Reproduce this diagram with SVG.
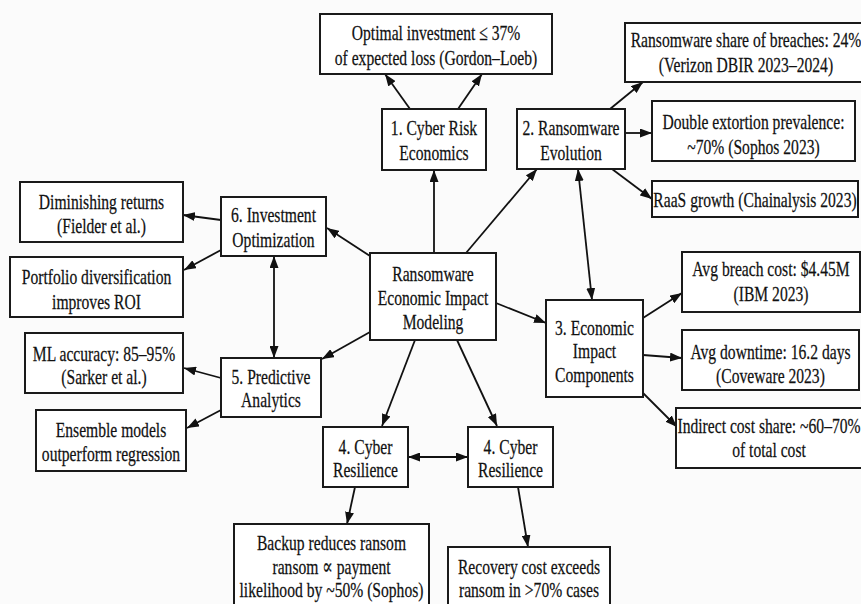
<svg xmlns="http://www.w3.org/2000/svg" width="861" height="604" viewBox="0 0 861 604">
<defs>
<marker id="ah" viewBox="0 0 12 9" refX="12" refY="4.5" markerWidth="12" markerHeight="9" markerUnits="userSpaceOnUse" orient="auto-start-reverse">
<path d="M0,0 L12,4.5 L0,9 z" fill="#111"/>
</marker>
<style>
.box{fill:#fff;stroke:#1a1a1a;stroke-width:2}
.t{font-family:"Liberation Serif","Times New Roman","DejaVu Serif",serif;font-size:22px;fill:#111;stroke:#111;stroke-width:0.25;text-anchor:middle}
.c{stroke:#111;stroke-width:1.8;fill:none;marker-end:url(#ah)}
.d{marker-start:url(#ah)}
</style>
</defs>
<rect x="0" y="0" width="861" height="604" fill="#fbfbfb"/>
<g id="connectors">
<line class="c" x1="410" y1="109" x2="385" y2="74"/>
<line class="c" x1="458" y1="109" x2="482" y2="74"/>
<line class="c" x1="434" y1="253" x2="434" y2="170"/>
<line class="c" x1="466" y1="253" x2="537" y2="169"/>
<line class="c d" x1="578" y1="169" x2="592" y2="300"/>
<line class="c" x1="610" y1="109" x2="643" y2="82"/>
<line class="c" x1="625" y1="133" x2="652" y2="133"/>
<line class="c" x1="612" y1="169" x2="652" y2="199"/>
<line class="c" x1="496" y1="303" x2="546" y2="323"/>
<line class="c" x1="643" y1="318" x2="682" y2="293"/>
<line class="c" x1="643" y1="355" x2="682" y2="358"/>
<line class="c" x1="643" y1="393" x2="677" y2="427"/>
<line class="c" x1="370" y1="256" x2="327" y2="228"/>
<line class="c" x1="221" y1="220" x2="183" y2="215"/>
<line class="c" x1="221" y1="250" x2="184" y2="270"/>
<line class="c d" x1="274" y1="256" x2="274" y2="358"/>
<line class="c" x1="370" y1="332" x2="322" y2="359"/>
<line class="c" x1="221" y1="378" x2="184" y2="368"/>
<line class="c" x1="221" y1="410" x2="187" y2="428"/>
<line class="c" x1="415" y1="340" x2="382" y2="426"/>
<line class="c" x1="457" y1="340" x2="497" y2="426"/>
<line class="c d" x1="408" y1="457" x2="468" y2="457"/>
<line class="c" x1="355" y1="487" x2="347" y2="524"/>
<line class="c" x1="518" y1="487" x2="528" y2="547"/>
</g>
<g id="optimal-investment">
<rect class="box" x="320" y="14" width="232" height="60"/>
<text class="t" transform="matrix(0.71 0 0 1 126.44 0)" x="436" y="40.5">Optimal investment ≤ 37%<tspan x="436" y="65.5">of expected loss (Gordon–Loeb)</tspan></text>
</g>
<g id="cyber-risk-economics">
<rect class="box" x="382" y="109" width="104" height="61"/>
<text class="t" transform="matrix(0.71 0 0 1 125.86 0)" x="434" y="135.5">1. Cyber Risk<tspan x="434" y="160.5">Economics</tspan></text>
</g>
<g id="ransomware-evolution">
<rect class="box" x="517" y="109" width="108" height="60"/>
<text class="t" transform="matrix(0.71 0 0 1 165.59 0)" x="571" y="135.5">2. Ransomware<tspan x="571" y="160.5">Evolution</tspan></text>
</g>
<g id="ransomware-share">
<rect class="box" x="625" y="23" width="242" height="59"/>
<text class="t" transform="matrix(0.71 0 0 1 216.34 0)" x="746" y="47.5">Ransomware share of breaches: 24%<tspan x="746" y="72.5">(Verizon DBIR 2023–2024)</tspan></text>
</g>
<g id="double-extortion">
<rect class="box" x="652" y="101" width="203" height="60"/>
<text class="t" transform="matrix(0.71 0 0 1 218.515 0)" x="753.5" y="129.5">Double extortion prevalence:<tspan x="753.5" y="154.5">~70% (Sophos 2023)</tspan></text>
</g>
<g id="raas-growth">
<rect class="box" x="652" y="181" width="206" height="36"/>
<text class="t" transform="matrix(0.71 0 0 1 218.95 0)" x="755" y="207.5">RaaS growth (Chainalysis 2023)</text>
</g>
<g id="diminishing-returns">
<rect class="box" x="20" y="182" width="163" height="60"/>
<text class="t" transform="matrix(0.71 0 0 1 29.435 0)" x="101.5" y="209">Diminishing returns<tspan x="101.5" y="233.5">(Fielder et al.)</tspan></text>
</g>
<g id="investment-optimization">
<rect class="box" x="221" y="197" width="105" height="59"/>
<text class="t" transform="matrix(0.71 0 0 1 79.315 0)" x="273.5" y="222.5">6. Investment<tspan x="273.5" y="247.5">Optimization</tspan></text>
</g>
<g id="portfolio-diversification">
<rect class="box" x="10" y="257" width="173" height="60"/>
<text class="t" transform="matrix(0.71 0 0 1 27.985 0)" x="96.5" y="284.5">Portfolio diversification<tspan x="96.5" y="309.5">improves ROI</tspan></text>
</g>
<g id="center">
<rect class="box" x="370" y="253" width="126" height="87"/>
<text class="t" transform="matrix(0.71 0 0 1 125.57 0)" x="433" y="281">Ransomware<tspan x="433" y="305">Economic Impact</tspan><tspan x="433" y="329">Modeling</tspan></text>
</g>
<g id="ml-accuracy">
<rect class="box" x="25" y="333" width="158" height="60"/>
<text class="t" transform="matrix(0.71 0 0 1 30.16 0)" x="104" y="361">ML accuracy: 85–95%<tspan x="104" y="384.5">(Sarker et al.)</tspan></text>
</g>
<g id="predictive-analytics">
<rect class="box" x="221" y="358" width="100" height="59"/>
<text class="t" transform="matrix(0.71 0 0 1 78.59 0)" x="271" y="384.5">5. Predictive<tspan x="271" y="407.5">Analytics</tspan></text>
</g>
<g id="ensemble-models">
<rect class="box" x="36" y="410" width="150" height="61"/>
<text class="t" transform="matrix(0.71 0 0 1 32.19 0)" x="111" y="437">Ensemble models<tspan x="111" y="461">outperform regression</tspan></text>
</g>
<g id="economic-impact-components">
<rect class="box" x="546" y="300" width="97" height="97"/>
<text class="t" transform="matrix(0.71 0 0 1 172.405 0)" x="594.5" y="335">3. Economic<tspan x="594.5" y="358.5">Impact</tspan><tspan x="594.5" y="382.5">Components</tspan></text>
</g>
<g id="avg-breach-cost">
<rect class="box" x="682" y="252" width="178" height="60"/>
<text class="t" transform="matrix(0.71 0 0 1 223.59 0)" x="771" y="276">Avg breach cost: $4.45M<tspan x="771" y="301">(IBM 2023)</tspan></text>
</g>
<g id="avg-downtime">
<rect class="box" x="682" y="330" width="177" height="60"/>
<text class="t" transform="matrix(0.71 0 0 1 223.445 0)" x="770.5" y="359.5">Avg downtime: 16.2 days<tspan x="770.5" y="383">(Coveware 2023)</tspan></text>
</g>
<g id="indirect-cost">
<rect class="box" x="676" y="408" width="194" height="60"/>
<text class="t" transform="matrix(0.71 0 0 1 223.01 0)" x="769" y="433.5">Indirect cost share: ~60–70%<tspan x="769" y="457.5">of total cost</tspan></text>
</g>
<g id="cyber-resilience-a">
<rect class="box" x="323" y="427" width="85" height="60"/>
<text class="t" transform="matrix(0.71 0 0 1 105.995 0)" x="365.5" y="454.5">4. Cyber<tspan x="365.5" y="477.5">Resilience</tspan></text>
</g>
<g id="cyber-resilience-b">
<rect class="box" x="468" y="427" width="85" height="60"/>
<text class="t" transform="matrix(0.71 0 0 1 148.045 0)" x="510.5" y="454.5">4. Cyber<tspan x="510.5" y="477.5">Resilience</tspan></text>
</g>
<g id="backup-reduces">
<rect class="box" x="234" y="524" width="195" height="85"/>
<text class="t" transform="matrix(0.71 0 0 1 96.135 0)" x="331.5" y="550.5">Backup reduces ransom<tspan x="331.5" y="574.5">ransom ∝ payment</tspan><tspan x="331.5" y="597.5">likelihood by ~50% (Sophos)</tspan></text>
</g>
<g id="recovery-cost">
<rect class="box" x="448" y="547" width="162" height="62"/>
<text class="t" transform="matrix(0.71 0 0 1 153.41 0)" x="529" y="574.5">Recovery cost exceeds<tspan x="529" y="597.5">ransom in &gt;70% cases</tspan></text>
</g>
</svg>
